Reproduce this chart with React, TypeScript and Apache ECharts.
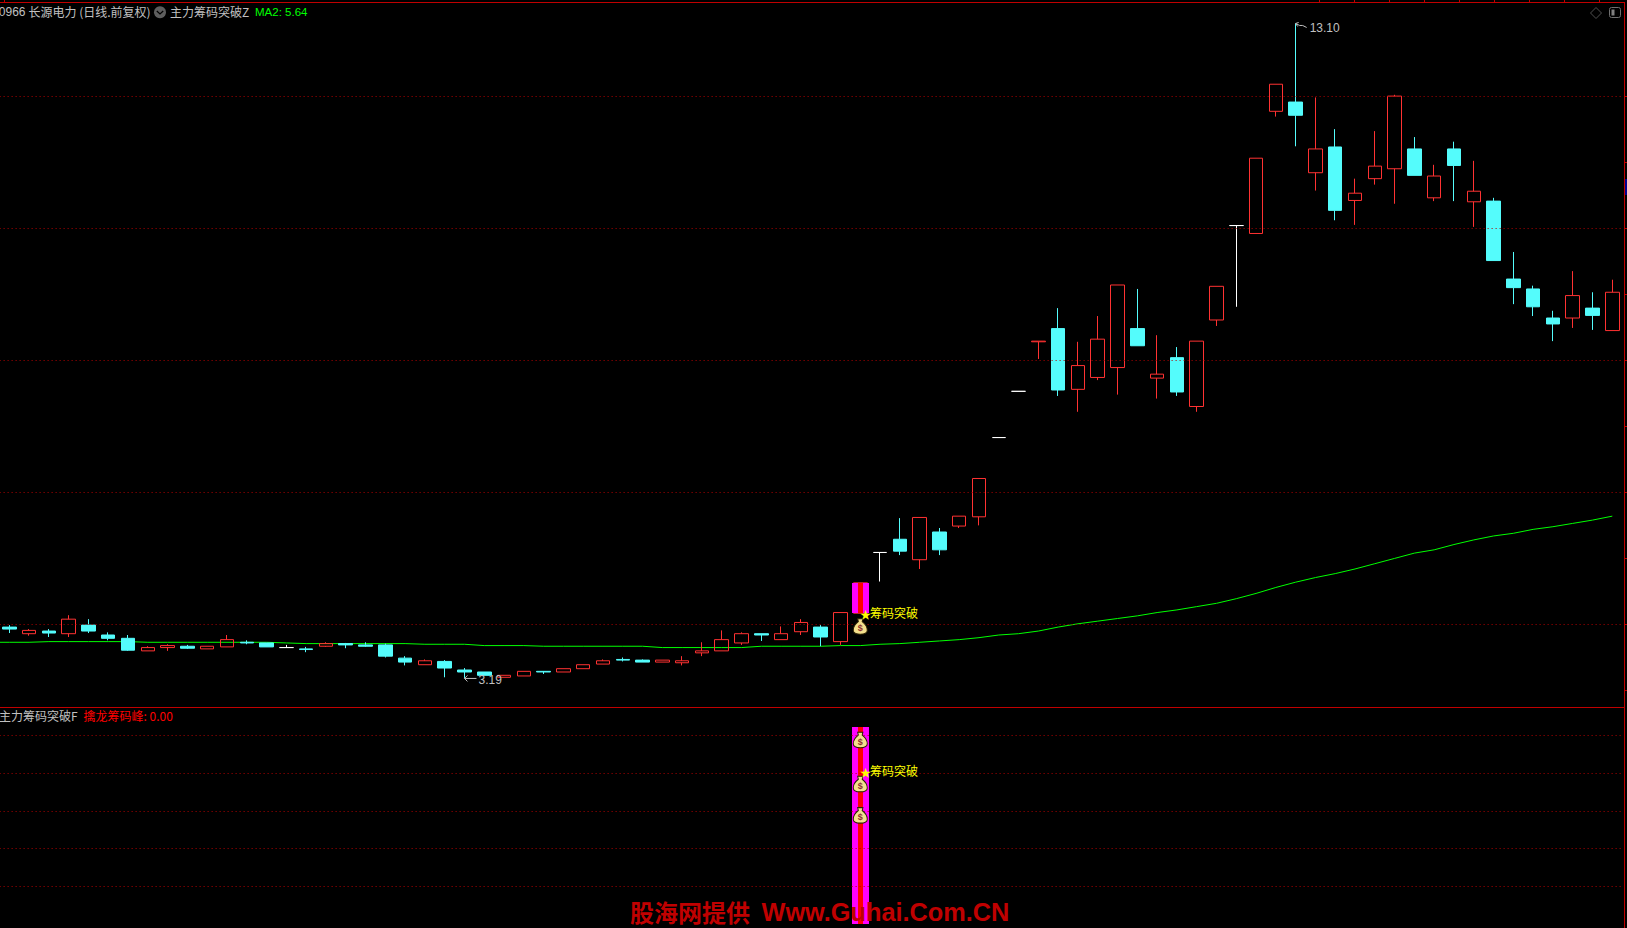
import React, { useEffect, useRef } from "react";
import * as echarts from "echarts";

// One off-screen session sits left of the first candle so that the MA line reaches the page edge.
const LEAD = 1;
const PAGE_SHIFT = 21;

// [open, close, low, high]
const candles: number[][] = [
  [3.96,3.93,3.87,3.99],[3.86,3.91,3.83,3.93],[3.90,3.87,3.81,3.93],[3.86,4.08,3.81,4.14],
  [3.99,3.90,3.87,4.08],[3.84,3.79,3.76,3.88],[3.79,3.61,3.60,3.84],[3.60,3.65,3.60,3.67],
  [3.65,3.68,3.60,3.70],[3.67,3.64,3.63,3.69],[3.63,3.67,3.63,3.67],[3.66,3.77,3.66,3.84],
  [3.73,3.72,3.70,3.76],[3.72,3.66,3.66,3.72],[3.65,3.65,3.65,3.69],[3.63,3.62,3.58,3.66],
  [3.67,3.71,3.66,3.73],[3.71,3.69,3.64,3.72],[3.69,3.67,3.66,3.73],[3.69,3.52,3.50,3.71],
  [3.49,3.43,3.38,3.52],[3.39,3.45,3.39,3.47],[3.44,3.34,3.20,3.46],[3.31,3.28,3.19,3.34],
  [3.28,3.23,3.23,3.28],[3.20,3.23,3.20,3.23],[3.22,3.29,3.22,3.29],[3.29,3.28,3.25,3.29],
  [3.28,3.33,3.28,3.33],[3.33,3.39,3.33,3.39],[3.40,3.45,3.40,3.47],[3.47,3.46,3.44,3.50],
  [3.46,3.43,3.43,3.47],[3.43,3.46,3.43,3.46],[3.42,3.45,3.38,3.52],[3.57,3.60,3.52,3.73],
  [3.60,3.77,3.60,3.91],[3.72,3.86,3.69,3.88],[3.86,3.84,3.75,3.86],[3.77,3.86,3.77,3.97],
  [3.89,4.03,3.84,4.08],[3.96,3.81,3.67,3.99],[3.74,4.18,3.69,4.18],[4.17,4.63,4.17,4.63],
  [5.09,5.09,4.65,5.09],[5.29,5.11,5.05,5.61],[4.98,5.62,4.84,5.62],[5.40,5.13,5.05,5.46],
  [5.49,5.64,5.46,5.64],[5.63,6.21,5.50,6.21],[6.83,6.83,6.83,6.83],[7.53,7.53,7.53,7.53],
  [8.28,8.29,8.02,8.29],[8.48,7.55,7.46,8.79],[7.56,7.92,7.22,8.28],[7.74,8.32,7.70,8.67],
  [7.89,9.14,7.48,9.14],[8.48,8.22,8.22,9.08],[7.73,7.79,7.42,8.38],[8.04,7.52,7.46,8.20],
  [7.30,8.29,7.22,8.29],[8.61,9.12,8.52,9.12],[10.04,10.04,8.81,10.04],[9.92,11.06,9.92,11.06],
  [11.77,12.18,11.69,12.18],[11.91,11.71,11.24,13.10],[10.84,11.20,10.57,11.98],[11.23,10.27,10.12,11.50],
  [10.42,10.53,10.05,10.75],[10.75,10.94,10.66,11.47],[10.90,12.00,10.37,12.02],[11.20,10.80,10.80,11.38],
  [10.46,10.79,10.41,10.96],[11.20,10.95,10.41,11.31],[10.40,10.56,10.02,11.02],[10.41,9.51,9.51,10.46],
  [9.23,9.10,8.85,9.64],[9.08,8.81,8.67,9.13],[8.64,8.55,8.29,8.75],[8.64,8.98,8.49,9.35],
  [8.79,8.68,8.46,9.03],[8.45,9.03,8.45,9.22],
];

const ma2: number[] = [
  3.73,3.73,3.73,3.74,3.74,3.74,3.74,3.74,3.73,3.73,3.73,3.73,3.73,3.73,3.73,3.72,
  3.71,3.71,3.71,3.71,3.71,3.71,3.70,3.70,3.70,3.68,3.68,3.68,3.67,3.67,3.67,3.67,
  3.67,3.67,3.65,3.65,3.65,3.65,3.65,3.67,3.67,3.67,3.67,3.68,3.68,3.70,3.71,3.73,
  3.75,3.77,3.80,3.84,3.86,3.90,3.96,4.01,4.05,4.09,4.13,4.18,4.22,4.27,4.32,4.39,
  4.47,4.56,4.64,4.71,4.77,4.84,4.92,5.00,5.08,5.13,5.21,5.28,5.34,5.38,5.44,5.48,
  5.53,5.58,5.64,
];

const categories = ma2.map((_, i) => String(i));
const whiteDoji = [14, 44, 50, 51, 62];

const mainGridValues = [4, 6, 8, 10, 12];
const subGridValues = [20, 40, 60, 80, 100];
const signalIndex = 43;
const mainStick = [[signalIndex + LEAD, 4.17, 4.63]];
const subStick = [[signalIndex + LEAD, 0, 104.4]];
const mainBags = [[signalIndex + LEAD, 3.97]];
const subBags = [[signalIndex + LEAD, 97.6], [signalIndex + LEAD, 74.2], [signalIndex + LEAD, 57.6]];
const mainSignal = [[signalIndex + LEAD, 4.16]];
const subSignal = [[signalIndex + LEAD, 80.7]];
const extremes = [[65 + LEAD, 13.1], [23 + LEAD, 3.19]];
const signalText = "筹码突破";
const ma2Label = "MA2: 5.64";
const peakLabel = "擒龙筹码峰: 0.00";

const RED = "#FF3232";
const CYAN = "#54FCFC";
const FRAME = "#C00000";
const DOT = "#B00000";
const GREY = "#C0C0C0";
const CJK = '"Noto Sans CJK SC"';
const LATIN = '"Liberation Sans"';
const BAG = "path://M5 0L11 0L10.2 3C14 5.6 16 9 16 12C16 15 13 16 8 16C3 16 0 15 0 12C0 9 2 5.6 5.8 3Z";

const gridSeries = (idx: number, values: number[]) => ({
  type: "line",
  xAxisIndex: idx,
  yAxisIndex: idx,
  data: [],
  z: 1,
  silent: true,
  markLine: {
    silent: true,
    symbol: "none",
    label: { show: false },
    lineStyle: { color: DOT, width: 1, type: [1, 3], opacity: 1 },
    data: values.map((v) => ({ yAxis: v })),
  },
});

const stickRender = (_p: any, api: any) => {
  const a = api.coord([api.value(0), api.value(1)]);
  const b = api.coord([api.value(0), api.value(2)]);
  const top = Math.round(b[1]);
  const h = Math.round(a[1]) - top;
  const cx = a[0];
  return {
    type: "group",
    children: [
      { type: "rect", shape: { x: Math.round(cx - 8.4), y: top, width: 17, height: h }, style: { fill: "#FF00FF" } },
      { type: "rect", shape: { x: Math.round(cx - 2.3), y: top, width: 5, height: h }, style: { fill: "#FF0000" } },
    ],
  };
};

const signalRender = (_p: any, api: any) => {
  const c = api.coord([api.value(0), api.value(1)]);
  return {
    type: "group",
    children: [
      { type: "text", style: { text: "★", x: c[0] + 5.3, y: c[1], fill: "#FFFF00", fontSize: 11, fontFamily: CJK, align: "center", verticalAlign: "middle" } },
      { type: "text", style: { text: signalText, x: c[0] + 9.7, y: c[1] - 1, fill: "#FFFF00", fontSize: 12, fontFamily: CJK, align: "left", verticalAlign: "middle" } },
    ],
  };
};

const extremeRender = (_p: any, api: any) => {
  const c = api.coord([api.value(0), api.value(1)]);
  const v = api.value(1);
  const high = v > 8;
  const ax = c[0];
  const ay = high ? c[1] : c[1] + 0.5;
  return {
    type: "group",
    children: [
      high
        ? { type: "polyline", shape: { points: [[ax, ay], [ax + 4, ay + 2], [ax + 7, ay + 2], [ax + 11, ay + 4]] }, style: { stroke: GREY, fill: "none", lineWidth: 1 } }
        : { type: "line", shape: { x1: ax, y1: ay, x2: ax + 12, y2: ay }, style: { stroke: GREY, lineWidth: 1 } },
      high
        ? { type: "polyline", shape: { points: [[ax + 2, ay + 3], [ax, ay], [ax + 3, ay - 1]] }, style: { stroke: GREY, fill: "none", lineWidth: 1 } }
        : { type: "polyline", shape: { points: [[ax + 3, ay - 3], [ax, ay], [ax + 3, ay + 3]] }, style: { stroke: GREY, fill: "none", lineWidth: 1 } },
      { type: "text", style: { text: v.toFixed(2), x: ax + 14, y: ay + (high ? 5 : 2), fill: GREY, fontSize: 12, fontFamily: LATIN, align: "left", verticalAlign: "middle" } },
    ],
  };
};

const bagSeries = (idx: number, data: number[][]) => ({
  type: "scatter",
  xAxisIndex: idx,
  yAxisIndex: idx,
  data,
  z: 6,
  silent: true,
  symbol: BAG,
  symbolSize: [14, 15.5],
  itemStyle: { color: "#F4E08C", borderColor: "#2A2000", borderWidth: 1, opacity: 1 },
  label: { show: true, position: "inside", offset: [0, 2], formatter: "$", color: "#8A3030", fontSize: 9, fontWeight: "bold", fontFamily: LATIN },
});

const text = (s: string, x: number, y: number, fill: string, extra: any = {}) => ({
  type: "text",
  z: 20,
  silent: true,
  style: { text: s, x, y, fill, fontSize: 12, fontFamily: CJK, verticalAlign: "middle", align: "left", ...extra },
});

const hLine = (x1: number, y1: number, x2: number, y2: number, color = FRAME) => ({
  type: "line",
  z: 15,
  silent: true,
  shape: { x1, y1, x2, y2 },
  style: { stroke: color, lineWidth: 1 },
});

const topTicks = [4.5, 1319.5, 1354.5, 1389.5, 1424.5, 1459.5, 1494.5, 1529.5, 1564.5, 1599.5];
const rightTicks = [96.5, 162.5, 228.5, 294.5, 360.5, 426.5, 492.5, 558.5, 624.5, 690.5];

export default function App() {
  const ref = useRef<HTMLDivElement | null>(null);
  useEffect(() => {
    document.body.style.margin = "0";
    document.body.style.background = "#000";
    const chart = echarts.init(ref.current!, undefined, { renderer: "svg" });

    const candleData: any[] = [];
    for (let i = 0; i < LEAD; i++) candleData.push(["-", "-", "-", "-"]);
    candles.forEach((c, i) => {
      const item: any = { value: c };
      if (whiteDoji.indexOf(i) >= 0) {
        item.itemStyle = { borderColor: "#FFFFFF", borderColor0: "#FFFFFF", borderColorDoji: "#FFFFFF" };
      }
      candleData.push(item);
    });

    chart.setOption({
      animation: false,
      backgroundColor: "#000000",
      tooltip: { show: false },
      legend: { show: false },
      grid: [
        { left: 0.61, width: 1642.57, top: 3, height: 704 },
        { left: 0.61, width: 1642.57, top: 707.3, height: 220.7 },
      ],
      xAxis: [
        { type: "category", gridIndex: 0, data: categories, show: false, boundaryGap: true },
        { type: "category", gridIndex: 1, data: categories, show: false, boundaryGap: true },
      ],
      yAxis: [
        { type: "value", gridIndex: 0, min: 2.75, max: 13.41, show: false, scale: true, splitLine: { show: false } },
        { type: "value", gridIndex: 1, min: -2.1, max: 114.9, show: false, splitLine: { show: false } },
      ],
      series: [
        gridSeries(0, mainGridValues),
        gridSeries(1, subGridValues),
        {
          type: "line",
          name: "MA2",
          data: ma2,
          xAxisIndex: 0,
          yAxisIndex: 0,
          symbol: "none",
          z: 2,
          silent: true,
          lineStyle: { color: "#00FF00", width: 1 },
        },
        {
          type: "candlestick",
          name: "K",
          data: candleData,
          xAxisIndex: 0,
          yAxisIndex: 0,
          z: 3,
          silent: true,
          barWidth: 14,
          itemStyle: {
            color: "rgba(0,0,0,0)",
            color0: CYAN,
            borderColor: RED,
            borderColor0: CYAN,
            borderColorDoji: RED,
            borderWidth: 1,
          },
        },
        { type: "custom", data: mainStick, xAxisIndex: 0, yAxisIndex: 0, z: 4, silent: true, clip: false, renderItem: stickRender, encode: { x: 0, y: [1, 2] } },
        { type: "custom", data: subStick, xAxisIndex: 1, yAxisIndex: 1, z: 4, silent: true, clip: false, renderItem: stickRender, encode: { x: 0, y: [1, 2] } },
        bagSeries(0, mainBags),
        bagSeries(1, subBags),
        { type: "custom", data: mainSignal, xAxisIndex: 0, yAxisIndex: 0, z: 7, silent: true, clip: false, renderItem: signalRender, encode: { x: 0, y: 1 } },
        { type: "custom", data: subSignal, xAxisIndex: 1, yAxisIndex: 1, z: 7, silent: true, clip: false, renderItem: signalRender, encode: { x: 0, y: 1 } },
        { type: "custom", data: extremes, xAxisIndex: 0, yAxisIndex: 0, z: 7, silent: true, clip: false, renderItem: extremeRender, encode: { x: 0, y: 1 } },
      ],
      graphic: [
        {
          type: "group",
          x: PAGE_SHIFT,
          y: 0,
          children: [
            hLine(0, 2.5, 1625, 2.5),
            hLine(0, 707.5, 1625, 707.5),
            hLine(1624.5, 2, 1624.5, 928),
            ...topTicks.map((x) => hLine(x, 0, x, 2.5)),
            ...rightTicks.map((y) => hLine(1624.5, y, 1627, y)),
            { type: "rect", z: 16, silent: true, shape: { x: 1625, y: 179, width: 2, height: 16 }, style: { fill: "#000090" } },
            hLine(1626, 184.5, 1627, 184.5, "#FFFFFF"),
            text("0966", 25.5, 11.5, GREY, { align: "right", fontFamily: LATIN }),
            text("长源电力 (日线.前复权)", 28.5, 11, GREY),
            { type: "circle", z: 20, silent: true, shape: { cx: 160, cy: 12.3, r: 6 }, style: { fill: "#5E5E5E" } },
            { type: "polyline", z: 21, silent: true, shape: { points: [[156.8, 11], [160, 14], [163.2, 11]] }, style: { stroke: "#000", fill: "none", lineWidth: 1.2 } },
            text("主力筹码突破Z", 170, 11, GREY),
            text(ma2Label, 255, 12, "#00FF00", { fontFamily: LATIN, fontSize: 11.5 }),
            text("主力筹码突破F", -1, 715, GREY),
            text(peakLabel, 83.5, 715, "#FF0000"),
            { type: "polygon", z: 20, silent: true, shape: { points: [[1596, 7.5], [1601.5, 13], [1596, 18.5], [1590.5, 13]] }, style: { stroke: "#505050", fill: "none", lineWidth: 1 } },
            { type: "rect", z: 20, silent: true, shape: { x: 1609.5, y: 7.5, width: 11, height: 10, r: 2 }, style: { stroke: "#707070", fill: "none", lineWidth: 1 } },
            { type: "rect", z: 20, silent: true, shape: { x: 1611.5, y: 9.5, width: 3, height: 6 }, style: { fill: "#808080" } },
            text("股海网提供", 630, 911, "#C00000", { fontSize: 24, fontWeight: "bold" }),
            text("Www.Guhai.Com.CN", 761.5, 912, "#C00000", { fontSize: 25.3, fontWeight: "bold", fontFamily: LATIN }),
          ],
        },
      ],
    });
    return () => chart.dispose();
  }, []);
  return <div ref={ref} style={{ position: "fixed", left: -PAGE_SHIFT, top: 0, width: 1627 + PAGE_SHIFT, height: 928, background: "#000" }} />;
}
